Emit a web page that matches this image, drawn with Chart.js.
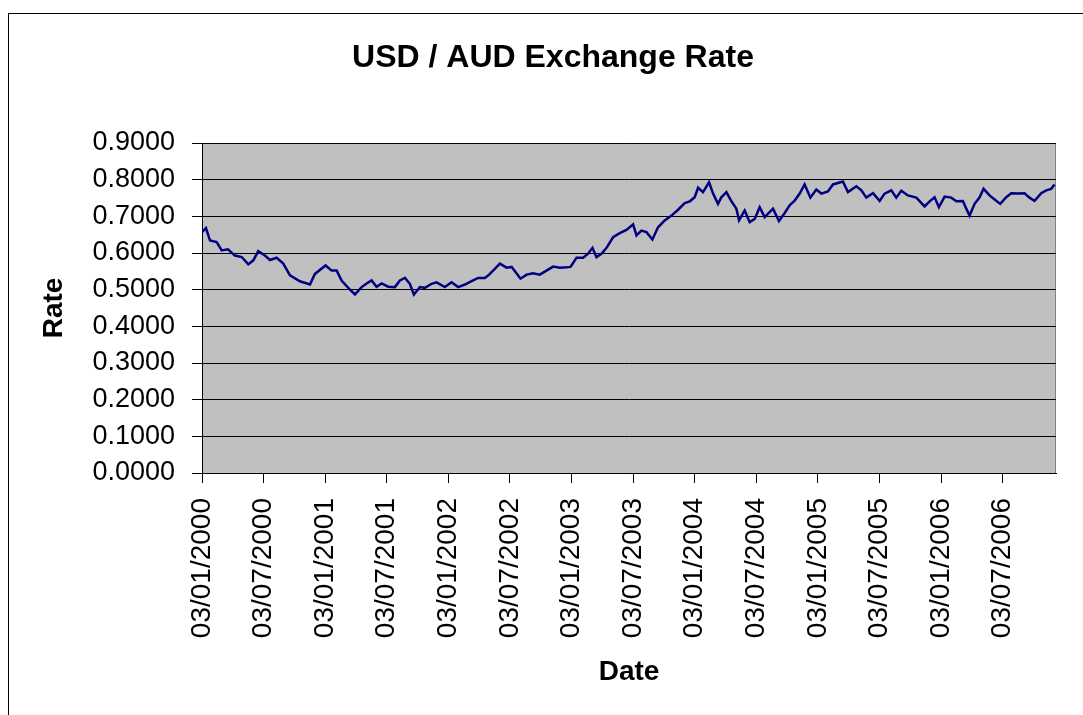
<!DOCTYPE html>
<html>
<head>
<meta charset="utf-8">
<title>USD / AUD Exchange Rate</title>
<script src="https://cdn.jsdelivr.net/npm/chart.js@4.4.1/dist/chart.umd.min.js"></script>
<style>
  html, body { margin: 0; padding: 0; background: #fff; }
  canvas { display: block; }
</style>
</head>
<body>
<canvas id="rate-chart" width="1083" height="715"></canvas>
<script>
// months since 03/01/2000
const monthOffsets = [
  0, 0.39, 0.78, 1.43, 1.92, 2.53, 3.21, 3.87, 4.51, 5.0, 5.48, 6.13, 6.62, 7.27, 7.92,
  8.57, 9.54, 10.52, 11.0, 12.04, 12.63, 13.12, 13.6, 14.25, 14.9, 15.55, 16.04, 16.52,
  17.01, 17.5, 18.14, 18.79, 19.28, 19.77, 20.25, 20.64, 21.23, 21.71, 22.37, 22.85,
  23.66, 24.31, 24.96, 25.61, 26.26, 26.9, 27.56, 27.97, 28.53, 29.02, 29.67, 30.16,
  30.64, 31.03, 31.62, 32.26, 32.91, 33.56, 34.21, 34.86, 35.51, 35.9, 36.49, 37.13,
  37.61, 38.04, 38.43, 38.92, 39.41, 40.05, 40.7, 41.35, 42.0, 42.33, 42.81, 43.3,
  43.88, 44.43, 45.08, 45.74, 46.38, 47.03, 47.52, 48.0, 48.33, 48.81, 49.4, 49.79,
  50.27, 50.6, 51.09, 51.58, 52.06, 52.32, 52.87, 53.36, 53.85, 54.33, 54.82, 55.63,
  56.21, 56.77, 57.25, 57.74, 58.23, 58.71, 59.27, 59.85, 60.34, 60.98, 61.47, 62.44,
  62.93, 63.75, 64.24, 64.72, 65.37, 66.02, 66.5, 67.15, 67.64, 68.13, 68.77, 69.59,
  70.4, 70.89, 71.37, 71.79, 72.35, 73.0, 73.49, 74.13, 74.46, 74.78, 75.27, 75.76,
  76.14, 76.73, 77.22, 77.77, 78.35, 78.84, 79.49, 80.14, 80.62, 81.11, 81.76, 82.25,
  82.73, 83.05
];

const rates = [
  0.657, 0.668, 0.634, 0.630, 0.607, 0.610, 0.593, 0.589, 0.569, 0.580, 0.605, 0.593, 0.581, 0.587, 0.571,
  0.539, 0.523, 0.514, 0.543, 0.566, 0.552, 0.552, 0.525, 0.505, 0.487, 0.507, 0.517, 0.525,
  0.508, 0.517, 0.508, 0.507, 0.525, 0.532, 0.516, 0.487, 0.507, 0.505, 0.516, 0.520,
  0.507, 0.520, 0.507, 0.514, 0.523, 0.532, 0.532, 0.541, 0.557, 0.571, 0.560, 0.562,
  0.545, 0.530, 0.541, 0.545, 0.541, 0.552, 0.563, 0.560, 0.561, 0.562, 0.587, 0.587,
  0.598, 0.614, 0.589, 0.598, 0.614, 0.643, 0.654, 0.663, 0.678, 0.648, 0.661, 0.657,
  0.637, 0.670, 0.689, 0.702, 0.718, 0.736, 0.741, 0.752, 0.778, 0.766, 0.793, 0.762,
  0.734, 0.752, 0.766, 0.741, 0.721, 0.689, 0.716, 0.684, 0.693, 0.725, 0.698, 0.721,
  0.687, 0.709, 0.730, 0.743, 0.762, 0.787, 0.751, 0.773, 0.762, 0.768, 0.787, 0.795,
  0.766, 0.782, 0.771, 0.751, 0.763, 0.742, 0.762, 0.771, 0.751, 0.770, 0.757, 0.751,
  0.727, 0.741, 0.752, 0.725, 0.754, 0.751, 0.741, 0.742, 0.721, 0.702, 0.734, 0.752,
  0.775, 0.757, 0.746, 0.734, 0.752, 0.763, 0.762, 0.763, 0.751, 0.742, 0.763, 0.771,
  0.775, 0.787
];

const tickMonths = [0, 6, 12, 18, 24, 30, 36, 42, 48, 54, 60, 66, 72, 78];
const tickLabels = [
  "03/01/2000", "03/07/2000", "03/01/2001", "03/07/2001", "03/01/2002", "03/07/2002",
  "03/01/2003", "03/07/2003", "03/01/2004", "03/07/2004", "03/01/2005", "03/07/2005",
  "03/01/2006", "03/07/2006"
];

const fontFamily = "'Liberation Sans', Arial, sans-serif";

// grey plot area, grey top/right edge, and the outer frame
let plotBackground = {
  id: "plotBackground",
  beforeDraw: function (chart) {
    let ctx = chart.ctx;
    let a = chart.chartArea;
    ctx.save();
    ctx.fillStyle = "#c0c0c0";
    ctx.fillRect(a.left, a.top, a.right - a.left, a.bottom - a.top);
    ctx.strokeStyle = "#808080";
    ctx.lineWidth = 1;
    ctx.beginPath();
    ctx.moveTo(a.left, a.top + 0.5);
    ctx.lineTo(a.right - 0.5, a.top + 0.5);
    ctx.lineTo(a.right - 0.5, a.bottom);
    ctx.stroke();
    ctx.strokeStyle = "#000";
    ctx.strokeRect(8.5, 13.5, 1200, 800);
    ctx.restore();
  },
};

let points = monthOffsets.map(function (m, i) {
  return { x: m, y: rates[i] };
});

new Chart(document.getElementById("rate-chart").getContext("2d"), {
  type: "line",
  data: {
    datasets: [
      {
        data: points,
        borderColor: "#000080",
        borderWidth: 2.5,
        pointRadius: 0,
        tension: 0,
        fill: false,
      },
    ],
  },
  options: {
    responsive: false,
    animation: false,
    layout: { padding: { left: 23, right: 0, top: 0, bottom: 0 } },
    plugins: {
      legend: { display: false },
      tooltip: { enabled: false },
      title: {
        display: true,
        text: "USD / AUD Exchange Rate",
        color: "#000",
        font: { family: fontFamily, size: 32, weight: "bold" },
        padding: { top: 39, bottom: 65.6 },
      },
    },
    scales: {
      x: {
        type: "linear",
        min: 0,
        max: 83.2,
        afterBuildTicks: function (axis) {
          axis.ticks = tickMonths.map(function (v) {
            return { value: v };
          });
        },
        afterFit: function (scale) {
          scale.height = 242;
        },
        ticks: {
          autoSkip: false,
          maxRotation: 90,
          minRotation: 90,
          padding: 15,
          color: "#000",
          font: { family: fontFamily, size: 28 },
          callback: function (value) {
            return tickLabels[tickMonths.indexOf(value)];
          },
        },
        grid: {
          drawOnChartArea: false,
          tickLength: 10,
          color: "#000",
        },
        border: { color: "#000", width: 1 },
        title: {
          display: true,
          text: "Date",
          color: "#000",
          font: { family: fontFamily, size: 28, weight: "bold" },
          padding: { top: 0, bottom: 26 },
        },
      },
      y: {
        min: 0,
        max: 0.9,
        afterFit: function (scale) {
          scale.width = 179;
        },
        ticks: {
          stepSize: 0.1,
          padding: 17,
          color: "#000",
          font: { family: fontFamily, size: 27 },
          callback: function (value) {
            return value.toFixed(4);
          },
        },
        grid: {
          color: "#000",
          tickLength: 10,
        },
        border: { color: "#000", width: 1 },
        title: {
          display: true,
          text: "Rate",
          color: "#000",
          font: { family: fontFamily, size: 28, weight: "bold" },
          padding: { top: 14, bottom: 0 },
        },
      },
      // empty right-hand axis that only holds the white margin
      rightMargin: {
        position: "right",
        min: 0,
        max: 1,
        afterFit: function (scale) {
          scale.width = 27;
        },
        ticks: { display: false },
        grid: { display: false },
        border: { display: false },
      },
    },
  },
  plugins: [plotBackground],
});
</script>
</body>
</html>
